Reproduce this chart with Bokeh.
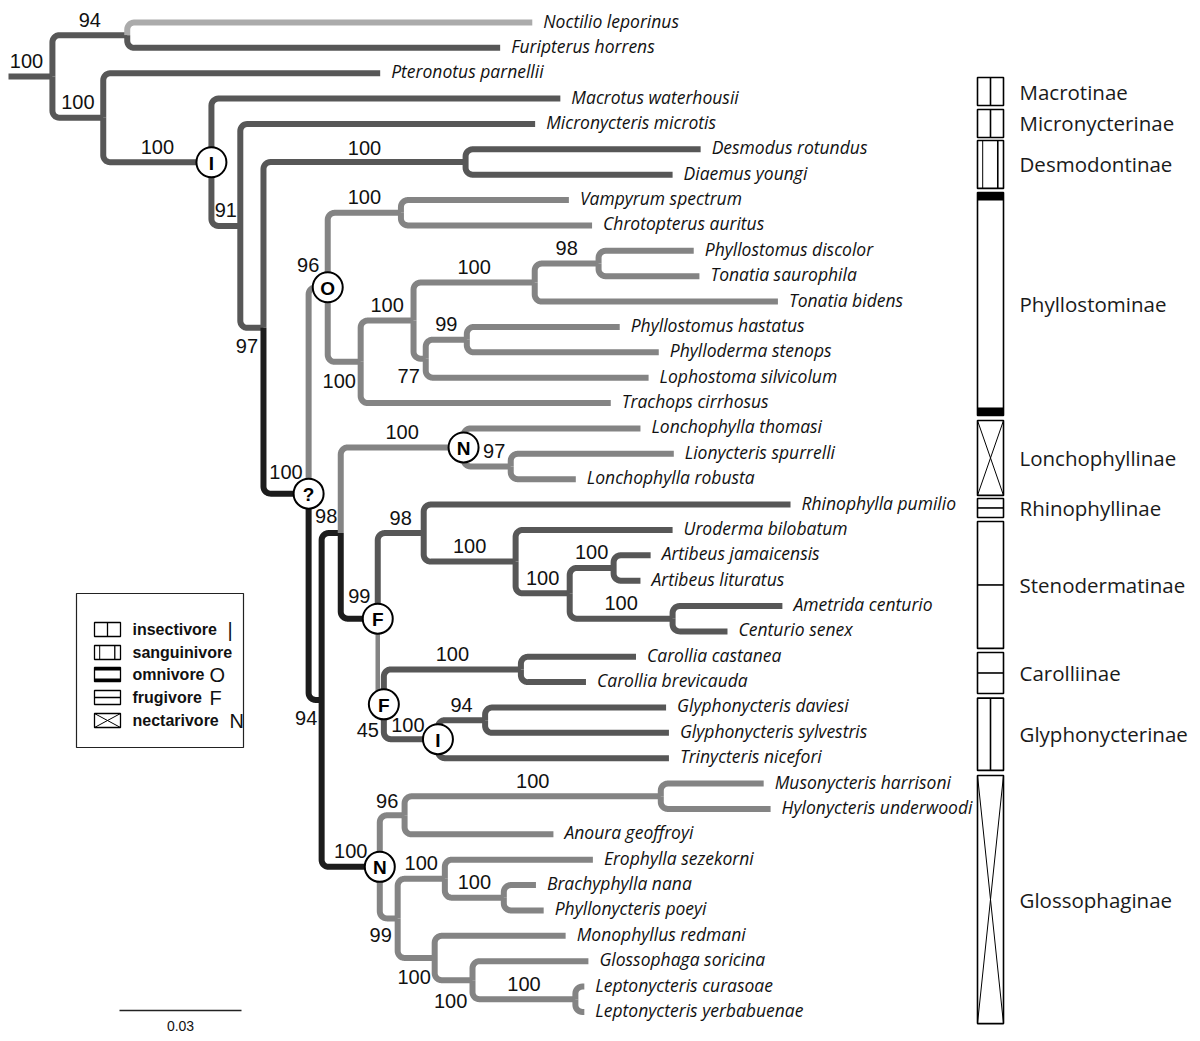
import math
from bokeh.plotting import figure
from bokeh.models import Range1d
from bokeh.core.properties import value
from bokeh.embed import file_html
from bokeh.resources import INLINE

# ---------------- data ----------------
node_id = [
    "root",
    "nA", "Noctilio leporinus", "Furipterus horrens",
    "nB", "Pteronotus parnellii",
    "nC", "Macrotus waterhousii",
    "nD", "Micronycteris microtis",
    "nE", "nDesm", "Desmodus rotundus", "Diaemus youngi",
    "nF", "nG", "nH", "Vampyrum spectrum", "Chrotopterus auritus",
    "nJ", "nK", "nL", "nL1", "Phyllostomus discolor", "Tonatia saurophila", "Tonatia bidens",
    "nM", "nM1", "Phyllostomus hastatus", "Phylloderma stenops", "Lophostoma silvicolum",
    "Trachops cirrhosus",
    "nP", "nQ", "nLon", "Lonchophylla thomasi", "nS", "Lionycteris spurrelli", "Lonchophylla robusta",
    "nR", "nT", "Rhinophylla pumilio", "nW", "Uroderma bilobatum", "nX", "nY",
    "Artibeus jamaicensis", "Artibeus lituratus", "nZ", "Ametrida centurio", "Centurio senex",
    "nU", "nCar", "Carollia castanea", "Carollia brevicauda",
    "nGly", "nV", "Glyphonycteris daviesi", "Glyphonycteris sylvestris", "Trinycteris nicefori",
    "nGlo", "nAA", "nAC", "Musonycteris harrisoni", "Hylonycteris underwoodi", "Anoura geoffroyi",
    "nAB", "nAD", "Erophylla sezekorni", "nAF", "Brachyphylla nana", "Phyllonycteris poeyi",
    "nAE", "Monophyllus redmani", "nAG", "Glossophaga soricina", "nAH",
    "Leptonycteris curasoae", "Leptonycteris yerbabuenae",
]
parent_id = [
    None,
    "root", "nA", "nA",
    "root", "nB",
    "nB", "nC",
    "nC", "nD",
    "nD", "nE", "nDesm", "nDesm",
    "nE", "nF", "nG", "nH", "nH",
    "nG", "nJ", "nK", "nL", "nL1", "nL1", "nL",
    "nK", "nM", "nM1", "nM1", "nM",
    "nJ",
    "nF", "nP", "nQ", "nLon", "nLon", "nS", "nS",
    "nQ", "nR", "nT", "nT", "nW", "nW", "nX",
    "nY", "nY", "nX", "nZ", "nZ",
    "nR", "nU", "nCar", "nCar",
    "nU", "nGly", "nV", "nV", "nGly",
    "nP", "nGlo", "nAA", "nAC", "nAC", "nAA",
    "nGlo", "nAB", "nAD", "nAD", "nAF", "nAF",
    "nAB", "nAE", "nAE", "nAG", "nAG",
    "nAH", "nAH",
]
branch_length = [
    0.0108,
    0.0184, 0.0996, 0.0917,
    0.0125, 0.0681,
    0.0266, 0.0858,
    0.0071, 0.0725,
    0.0057, 0.0497, 0.0578, 0.0509,
    0.0111, 0.0047, 0.0180, 0.0413, 0.0470,
    0.0081, 0.0130, 0.0298, 0.0157, 0.0234, 0.0248, 0.0598,
    0.0030, 0.0101, 0.0376, 0.0472, 0.0548,
    0.0615,
    0.0032, 0.0047, 0.0302, 0.0435, 0.0116, 0.0401, 0.0160,
    0.0091, 0.0113, 0.0902, 0.0226, 0.0386, 0.0133, 0.0108,
    0.0091, 0.0066, 0.0253, 0.0270, 0.0135,
    0.0015, 0.0337, 0.0283, 0.0160,
    0.0133, 0.0116, 0.0445, 0.0452, 0.0568,
    0.0143, 0.0061, 0.0630, 0.0253, 0.0270, 0.0366,
    0.0044, 0.0116, 0.0364, 0.0145, 0.0079, 0.0098,
    0.0091, 0.0322, 0.0093, 0.0285, 0.0253,
    0.0022, 0.0022,
]
support = {
    "root": 100, "nA": 94, "nB": 100, "nC": 100, "nD": 91, "nE": 97, "nDesm": 100,
    "nF": 100, "nG": 96, "nH": 100, "nJ": 100, "nK": 100, "nL": 100, "nL1": 98,
    "nM": 77, "nM1": 99, "nP": 94, "nQ": 98, "nLon": 100, "nS": 97, "nR": 99,
    "nT": 98, "nW": 100, "nX": 100, "nY": 100, "nZ": 100, "nU": 45, "nCar": 100,
    "nGly": 100, "nV": 94, "nGlo": 100, "nAA": 96, "nAC": 100, "nAB": 99,
    "nAD": 100, "nAF": 100, "nAE": 100, "nAG": 100, "nAH": 100,
}
# ancestral diet reconstructions shown in circles
diet_node = ["nC", "nG", "nF", "nLon", "nR", "nU", "nGly", "nGlo"]
diet_mark = ["I", "O", "?", "N", "F", "F", "I", "N"]

group_name = ["Macrotinae", "Micronycterinae", "Desmodontinae", "Phyllostominae",
              "Lonchophyllinae", "Rhinophyllinae", "Stenodermatinae", "Carolliinae",
              "Glyphonycterinae", "Glossophaginae"]
group_diet = ["insectivore", "insectivore", "sanguinivore", "omnivore", "nectarivore",
              "frugivore", "frugivore", "frugivore", "insectivore", "nectarivore"]
group_top = [2.17, 3.43, 4.65, 6.70, 15.69, 18.76, 19.67, 24.83, 26.63, 29.68]
group_bottom = [3.27, 4.53, 6.54, 15.49, 18.64, 19.51, 24.67, 26.45, 29.48, 39.46]

legend_diet = ["insectivore", "sanguinivore", "omnivore", "frugivore", "nectarivore"]
legend_symbol = ["|", "", "O", "F", "N"]
scale_value = 0.03

# ---------------- styles / layout ----------------
XS = 122 / 0.03      # px per substitution
X0 = 8               # image px of x = 0
Y0 = 22              # image px of first leaf
YS = 25.37           # px between leaves
W, H = 1192, 1033

def px(x): return X0 + x * XS
def py(y): return Y0 + y * YS
def dx(p): return (p - X0) / XS
def dy(p): return (p - Y0) / YS

BLACK = "#1c1c1c"
DARK = "#575757"
MID = "#848484"
LIGHT = "#ababab"
clade_color = {"Noctilio leporinus": LIGHT, "nG": MID, "nLon": MID, "nGlo": BLACK,
               "nF": BLACK, "nP": BLACK, "nQ": BLACK, "nR": BLACK, "nT": DARK,
               "nU": MID, "nCar": DARK, "nGly": DARK}

# support label offsets (dx, dy px) relative to midpoint of incoming branch
lab_off = {"root": (-4, -15), "nE": (-5, 18), "nF": (0, -22), "nG": (-10, -22),
           "nJ": (-5, 19), "nM": (-11, 17), "nQ": (-5, -17), "nR": (0, -23),
           "nU": (-13, 26), "nP": (-9, 18), "nAA": (-5, -14), "nAB": (-8, 17),
           "nAE": (-2, 19), "nAG": (-3, 21), "nGly": (-3, -14), "nS": (7, -15),
           "nDesm": (0, -14)}

# ---------------- tree layout ----------------
children = {n: [] for n in node_id}
for n, par in zip(node_id, parent_id):
    if par is not None:
        children[par].append(n)
bl = dict(zip(node_id, branch_length))
par_of = dict(zip(node_id, parent_id))
X = {}
for n in node_id:
    X[n] = bl[n] + (X[par_of[n]] if par_of[n] else 0.0)
leaves = [n for n in node_id if not children[n]]
Y = {n: i for i, n in enumerate(leaves)}
for n in reversed(node_id):
    if children[n]:
        Y[n] = (Y[children[n][0]] + Y[children[n][-1]]) / 2

COL = {}
for n in node_id:
    p_ = par_of[n]
    if n in clade_color:
        COL[n] = clade_color[n]
    elif p_ is None:
        COL[n] = DARK
    elif p_ == "nGlo":
        COL[n] = MID
    else:
        COL[n] = COL[p_]

def elbow(xp, yp, xc, yc, r=7, n=8):
    pts = [(xp, yp)]
    v = yc - yp
    h = xc - xp
    rr = min(r, abs(v), h) if abs(v) > 0.5 else 0
    if rr > 0.5:
        s = 1 if v > 0 else -1
        cx_, cy_ = xp + rr, yc - s * rr
        pts.append((xp, yc - s * rr))
        for k in range(1, n):
            t = k / n * math.pi / 2
            pts.append((cx_ - rr * math.cos(t), cy_ + s * rr * math.sin(t)))
        pts.append((xp + rr, yc))
    else:
        pts.append((xp, yc))
    pts.append((xc, yc))
    return pts

xs, ys, cols, wids = [], [], [], []
for n in node_id:
    p_ = par_of[n]
    if p_ is None:
        pts = [(px(0), py(Y[n])), (px(X[n]), py(Y[n]))]
    else:
        pts = elbow(px(X[p_]), py(Y[p_]), px(X[n]), py(Y[n]))
    xs.append([dx(a) for a, b in pts])
    ys.append([dy(b) for a, b in pts])
    cols.append(COL[n])
    wids.append(4.5 if n == "nU" else 6)

p = figure(width=W, height=H, output_backend="svg", toolbar_location=None,
           x_range=Range1d(dx(0), dx(W)), y_range=Range1d(dy(H), dy(0)),
           x_axis_type=None, y_axis_type=None, min_border=0)
p.outline_line_color = None
p.xgrid.visible = False
p.ygrid.visible = False
p.background_fill_color = "white"

p.multi_line(xs, ys, line_color=cols, line_width=wids, line_cap="butt", line_join="round")

# leaf names
p.text([X[n] for n in leaves], [Y[n] for n in leaves], text=leaves,
       text_font=value("Open Sans"), text_font_style="italic", text_font_size="17.5px",
       text_align="left", text_baseline="middle", x_offset=11, y_offset=-2, text_color="#111111")

# support values
sx, sy, st = [], [], []
for n, v in support.items():
    p_ = par_of[n]
    x_start = X[p_] if p_ else 0.0
    ox, oy = lab_off.get(n, (0, -15.5))
    sx.append(dx((px(x_start) + px(X[n])) / 2 + ox))
    sy.append(dy(py(Y[n]) + oy))
    st.append(str(v))
p.text(sx, sy, text=st, text_font=value("Liberation Sans"), text_font_size="20px",
       text_align="center", text_baseline="middle", text_color="#111111")

# diet circles
cx = [X[n] for n in diet_node]
cy = [Y[n] for n in diet_node]
p.scatter(cx, cy, marker="circle", size=30, fill_color="white", line_color="black", line_width=2)
p.text(cx, cy, text=diet_mark, text_font=value("Liberation Sans"), text_font_style="bold",
       text_font_size="19px", text_align="center", text_baseline="middle", y_offset=1,
       text_color="black")

# pattern helpers
seg = {"x0": [], "y0": [], "x1": [], "y1": [], "w": []}
boxes = {"l": [], "r": [], "t": [], "b": [], "w": []}
bands = {"l": [], "r": [], "t": [], "b": []}

def add_seg(a, b, c, d, w):
    seg["x0"].append(dx(a)); seg["y0"].append(dy(b))
    seg["x1"].append(dx(c)); seg["y1"].append(dy(d)); seg["w"].append(w)

def pattern(l, r, t, b, kind, band, bw):
    boxes["l"].append(dx(l)); boxes["r"].append(dx(r))
    boxes["t"].append(dy(t)); boxes["b"].append(dy(b)); boxes["w"].append(bw)
    xm, ym = (l + r) / 2, (t + b) / 2
    wdt = r - l
    if kind == "insectivore":
        add_seg(xm, t, xm, b, bw)
    elif kind == "sanguinivore":
        add_seg(l + 0.2 * wdt, t, l + 0.2 * wdt, b, 1)
        add_seg(l + 0.78 * wdt, t, l + 0.78 * wdt, b, bw)
    elif kind == "omnivore":
        for a, c in ((t, t + band), (b - band, b)):
            bands["l"].append(dx(l)); bands["r"].append(dx(r))
            bands["t"].append(dy(a)); bands["b"].append(dy(c))
    elif kind == "frugivore":
        add_seg(l, ym, r, ym, bw)
    elif kind == "nectarivore":
        add_seg(l, t, r, b, 1)
        add_seg(r, t, l, b, 1)

# group bars
BAR_L, BAR_R = 977, 1003
for g, d, t, b in zip(group_name, group_diet, group_top, group_bottom):
    pattern(BAR_L, BAR_R, py(t), py(b), d, 8, 1.6)
p.text([dx(1019)] * len(group_name), [(t + b) / 2 for t, b in zip(group_top, group_bottom)],
       text=group_name, text_font=value("Open Sans"), text_font_size="20.5px",
       text_align="left", text_baseline="middle", text_color="#1a1a1a")

# legend
LX0, LX1, LY0, LY1 = 76, 243, 593, 747
p.quad(left=[dx(LX0)], right=[dx(LX1)], top=[dy(LY0)], bottom=[dy(LY1)],
       fill_color=None, line_color="#222222", line_width=1.2)
rows = [629, 652, 674, 697, 720]
for d, ry in zip(legend_diet, rows):
    pattern(94, 120, ry - 7, ry + 7, d, 3, 1.3)
p.text([dx(132)] * 5, [dy(r) for r in rows], text=legend_diet,
       text_font=value("Liberation Sans"), text_font_style="bold", text_font_size="16px",
       text_align="left", text_baseline="middle", text_color="#111111")
sym_x = [227, 0, 209, 209, 229]
p.text([dx(v) for v, s in zip(sym_x, legend_symbol) if s],
       [dy(r) for r, s in zip(rows, legend_symbol) if s],
       text=[s for s in legend_symbol if s],
       text_font=value("Liberation Sans"), text_font_size="20px",
       text_align="left", text_baseline="middle", text_color="#111111")

p.quad(left="l", right="r", top="t", bottom="b", source=bands, fill_color="black", line_color=None)
p.quad(left="l", right="r", top="t", bottom="b", source=boxes, fill_color=None,
       line_color="black", line_width="w")
p.segment(x0="x0", y0="y0", x1="x1", y1="y1", source=seg, line_color="black", line_width="w")

# scale bar
SB_X, SB_Y = 119, 1010
p.segment([dx(SB_X)], [dy(SB_Y)], [dx(SB_X) + scale_value], [dy(SB_Y)],
          line_color="#222222", line_width=1.5)
p.text([dx(SB_X) + scale_value / 2], [dy(SB_Y + 15)], text=[str(scale_value)],
       text_font=value("Liberation Sans"), text_font_size="14px",
       text_align="center", text_baseline="middle", text_color="#111111")

open("out.html", "w").write(file_html(p, INLINE))
